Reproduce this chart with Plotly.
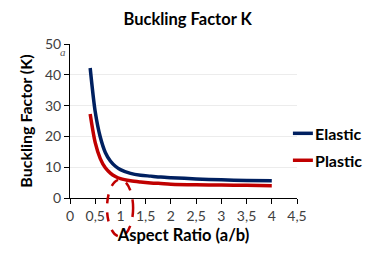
import plotly.graph_objects as go

aspect = [0.4, 0.5, 0.6, 0.7, 0.8, 0.9, 1.0, 1.2, 1.4, 1.6, 1.8, 2.0, 2.5, 3.0, 3.5, 4.0]
elastic = [42.2, 28.0, 19.8, 14.8, 12.0, 10.3, 9.2, 8.0, 7.4, 7.1, 6.8, 6.6, 6.2, 5.9, 5.7, 5.6]
plastic = [27.3, 18.0, 12.8, 9.8, 8.1, 7.0, 6.3, 5.6, 5.2, 4.9, 4.7, 4.5, 4.3, 4.2, 4.1, 4.0]
series_names = ["Elastic", "Plastic"]
series_colors = ["#002060", "#c00000"]
x_ticks = [0, 0.5, 1, 1.5, 2, 2.5, 3, 3.5, 4, 4.5]
x_ticktext = ["0", "0,5", "1", "1,5", "2", "2,5", "3", "3,5", "4", "4,5"]
y_ticks = [0, 10, 20, 30, 40, 50]

FONT = "Lato, 'Open Sans', sans-serif"
SERIF = "'Liberation Serif', 'DejaVu Serif', serif"

fig = go.Figure()
for name, ys, col in zip(series_names, [elastic, plastic], series_colors):
    fig.add_trace(go.Scatter(x=aspect, y=ys, mode="lines", name=name, showlegend=False,
                             line=dict(color=col, width=3.5, shape="spline", smoothing=0.8)))

fig.update_layout(
    width=379, height=255,
    margin=dict(l=62, r=90, t=36, b=65, autoexpand=False),
    paper_bgcolor="white", plot_bgcolor="white",
    font=dict(family=FONT, color="#404040", size=14),
    title=dict(text=f"<b>Buckling Factor <span style='font-family:{SERIF}'>K</span></b>",
               x=0.474, xanchor="center", y=0.955, yanchor="middle",
               font=dict(size=16.5, color="black", family=FONT)),
    xaxis=dict(range=[0, 4.5], tickvals=x_ticks, ticktext=x_ticktext,
               showline=True, linecolor="black", linewidth=1,
               ticks="outside", ticklen=5, tickcolor="black",
               showgrid=False, zeroline=False, automargin=False,
               title=dict(text=f"<b>Aspect Ratio <span style='font-family:{SERIF}'>(a/b)</span></b>",
                          font=dict(size=16.5, color="black"), standoff=6)),
    yaxis=dict(range=[0, 50], tickvals=y_ticks,
               showline=True, linecolor="black", linewidth=1,
               ticks="outside", ticklen=5, tickcolor="black",
               showgrid=True, gridcolor="#ececec", zeroline=False, automargin=False,
               title=dict(text=f"<b>Buckling Factor <span style='font-family:{SERIF}'>(K)</span></b>",
                          font=dict(size=16, color="black"), standoff=8)),
    showlegend=False,
)

# manual legend
leg_y = [0.42, 0.245]
for name, col, yy in zip(series_names, series_colors, leg_y):
    fig.add_shape(type="line", xref="paper", yref="paper", x0=0.982, x1=1.07, y0=yy, y1=yy,
                  line=dict(color=col, width=3.5))
    fig.add_annotation(text=f"<b>{name}</b>", xref="paper", yref="paper", x=1.072, y=yy,
                       xanchor="left", yanchor="middle", showarrow=False,
                       font=dict(size=16, color="black", family=FONT))

fig.add_shape(type="circle", xref="paper", yref="paper",
              x0=0.163, x1=0.278, y0=-0.25, y1=0.12,
              line=dict(color="#c00000", width=2.5, dash="dash"))
fig.add_annotation(text="<i>a</i>", xref="paper", yref="paper", x=-0.055, y=1.0,
                   showarrow=False, font=dict(family=SERIF, size=11, color="#595959"))

fig.write_html("out.html")
